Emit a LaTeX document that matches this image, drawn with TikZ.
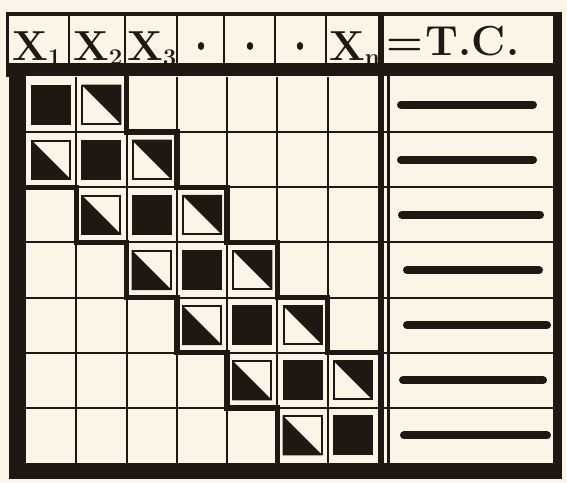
\documentclass[tikz,border=0pt]{standalone}
\definecolor{paper}{RGB}{252,244,230}
\definecolor{ink}{RGB}{32,22,18}
\newcommand\subx[1]{\raisebox{-5pt}{\fontsize{24}{24}\selectfont\bfseries #1}}
\begin{document}
\begin{tikzpicture}[x=1pt,y=-1pt,
  thinline/.style={draw=ink,line width=2pt},
  bandline/.style={draw=ink,line width=5.5pt,line join=miter,line cap=rect},
  headtext/.style={text=ink,inner sep=0pt,font=\fontsize{42}{42}\selectfont\bfseries},
  bar/.style={draw=ink,line width=8pt,line cap=round},
  cellbox/.style={draw=ink,line width=2pt,fill=paper}]
% background / bounding box
\fill[paper] (0,0) rectangle (567,482);
\useasboundingbox (0,0) rectangle (567,482);
% column and row positions
\def\cw{50.286}
\def\rh{55.143}
% thin grid lines in matrix
\foreach \k in {1,...,6} {
  \draw[thinline] ({26+\cw*\k},77) -- ({26+\cw*\k},463);
  \draw[thinline] (26,{77+\rh*\k}) -- (553,{77+\rh*\k});
}
% header separators
\foreach \xx in {69,125,177,224,275,326} {
  \draw[thinline] (\xx,14) -- (\xx,64);
}
% cells: diagonal
\foreach \k in {1,...,7} {
  \pgfmathsetmacro\cxx{26+\cw*(\k-0.5)}
  \pgfmathsetmacro\cyy{77+\rh*(\k-0.5)}
  \fill[ink] (\cxx-20,\cyy-20) rectangle (\cxx+20,\cyy+20);
}
% super- and sub-diagonal cells
\foreach \k in {1,...,6} {
  \pgfmathsetmacro\ax{26+\cw*(\k+0.5)}
  \pgfmathsetmacro\ay{77+\rh*(\k-0.5)}
  \draw[cellbox] (\ax-19,\ay-19) rectangle (\ax+19,\ay+19);
  \fill[ink] (\ax-20,\ay-20) -- (\ax+20,\ay-20) -- (\ax+20,\ay+20) -- cycle;
  \pgfmathsetmacro\bx{26+\cw*(\k-0.5)}
  \pgfmathsetmacro\by{77+\rh*(\k+0.5)}
  \draw[cellbox] (\bx-19,\by-19) rectangle (\bx+19,\by+19);
  \fill[ink] (\bx-20,\by-20) -- (\bx-20,\by+20) -- (\bx+20,\by+20) -- cycle;
}
% band staircase outlines
\draw[bandline] ({26+\cw*2},77) |- ({26+\cw*3},{77+\rh*1}) |- ({26+\cw*4},{77+\rh*2})
  |- ({26+\cw*5},{77+\rh*3}) |- ({26+\cw*6},{77+\rh*4}) |- ({26+\cw*7},{77+\rh*5});
\draw[bandline] (26,{77+\rh*2}) -| ({26+\cw*1},{77+\rh*3}) -| ({26+\cw*2},{77+\rh*4})
  -| ({26+\cw*3},{77+\rh*5}) -| ({26+\cw*4},{77+\rh*6}) -| ({26+\cw*5},463);
% frame
\fill[ink] (6,12) rectangle (562,15.5);      % top line
\fill[ink] (5.5,12) rectangle (9,77);       % header left edge
\fill[ink] (6,63) rectangle (562,76);       % band under header
\fill[ink] (9,63) rectangle (26,479);       % left border
\fill[ink] (9,463) rectangle (562,479);     % bottom border
\fill[ink] (553,12) rectangle (562,479);    % right border
\fill[ink] (378,12) rectangle (383.5,463);  % thick divider
\draw[ink,line width=2.5pt] (388.5,76) -- (388.5,463); % second divider line
% header dots
\foreach \xx in {201,250,300} {
  \fill[ink] (\xx,46) ellipse [x radius=3.2, y radius=4];
}
% header texts
\node[headtext,anchor=base west] (x1) at (12,60) {X\subx{1}};
\node[headtext,anchor=base west] (x2) at (73,60) {X\subx{2}};
\node[headtext,anchor=base west] (x3) at (127,60) {X\subx{3}};
\node[headtext,anchor=base west] (xn) at (329,60) {X\subx{n}};
\node[headtext,anchor=base west] (tc) at (386,55) {=\kern3pt T.C.};
% bars in right column
\foreach \xa/\xb [count=\r] in {401/533,401/533,402/540,407/539,407/547,403/543,404/547} {
  \draw[bar] (\xa,{77+\rh*(\r-0.5)}) -- (\xb,{77+\rh*(\r-0.5)});
}
\end{tikzpicture}
\end{document}
